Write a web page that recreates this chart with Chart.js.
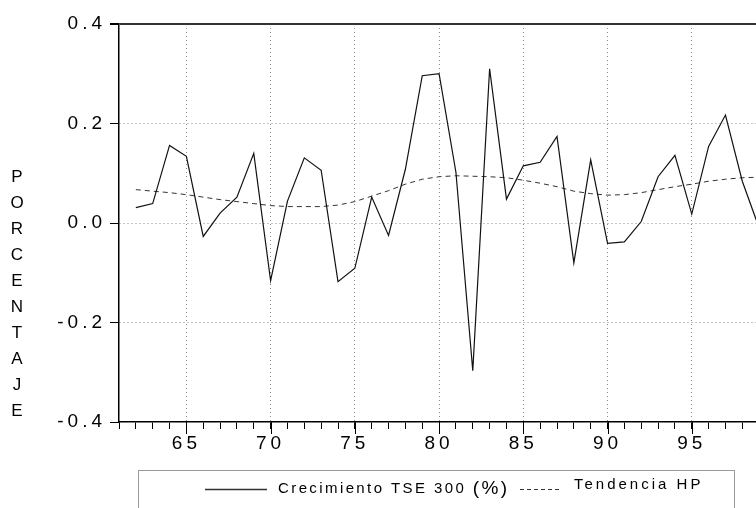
<!DOCTYPE html>
<html>
<head>
<meta charset="utf-8">
<script src="https://cdn.jsdelivr.net/npm/chart.js@4.4.0/dist/chart.umd.min.js"></script>
<style>
  html, body { margin: 0; padding: 0; overflow: hidden; background: #fff; }
  canvas { display: block; }
</style>
</head>
<body>
<canvas id="chart" width="790" height="508"></canvas>
<script>
const years = [62, 63, 64, 65, 66, 67, 68, 69, 70, 71, 72, 73, 74, 75, 76, 77, 78, 79, 80,
  81, 82, 83, 84, 85, 86, 87, 88, 89, 90, 91, 92, 93, 94, 95, 96, 97, 98, 99];

const growth = [0.031, 0.039, 0.156, 0.134, -0.027, 0.020, 0.052, 0.140, -0.116, 0.044,
  0.131, 0.106, -0.118, -0.091, 0.052, -0.025, 0.108, 0.296, 0.300, 0.102,
  -0.297, 0.310, 0.048, 0.115, 0.122, 0.174, -0.080, 0.127, -0.041, -0.038,
  0.003, 0.093, 0.136, 0.018, 0.154, 0.217, 0.084, -0.010];

const trend = [0.067, 0.064, 0.061, 0.057, 0.052, 0.047, 0.043, 0.039, 0.035, 0.033,
  0.033, 0.033, 0.036, 0.043, 0.054, 0.065, 0.078, 0.088, 0.093, 0.095,
  0.094, 0.093, 0.091, 0.086, 0.080, 0.073, 0.064, 0.059, 0.056, 0.057,
  0.061, 0.067, 0.073, 0.078, 0.084, 0.088, 0.091, 0.092];

const seriesNames = ['Crecimiento TSE 300 (%)', 'Tendencia HP'];
const xLabelYears = [65, 70, 75, 80, 85, 90, 95];
const yTitle = 'PORCENTAJE';

const FONT = '"Liberation Sans", Arial, sans-serif';
const DOTS = '#8c8c8c';
const CLEAR = 'rgba(0,0,0,0)';

const toPoints = values => values.map((v, i) => ({ x: years[i], y: v }));
const isMajor = v => Math.abs(v % 5) < 1e-9;
const near = (a, b) => Math.abs(a - b) < 1e-9;

// letter spacing for the axis labels, set before the scales are drawn
const spacing = {
  id: 'spacing',
  beforeDraw(chart) {
    chart.ctx.letterSpacing = '4px';
  },
  beforeDatasetsDraw(chart) {
    chart.ctx.letterSpacing = '0px';
  },
};

// longer ticks at every fifth year
const majorTicks = {
  id: 'majorTicks',
  afterDraw(chart) {
    const { ctx, scales: { x }, chartArea } = chart;
    ctx.save();
    ctx.strokeStyle = '#000';
    ctx.lineWidth = 1;
    xLabelYears.forEach(v => {
      const px = Math.round(x.getPixelForValue(v)) + 0.5;
      ctx.beginPath();
      ctx.moveTo(px, chartArea.bottom);
      ctx.lineTo(px, chartArea.bottom + 12);
      ctx.stroke();
    });
    ctx.restore();
  },
};

// y title written as stacked letters
const stackedTitle = {
  id: 'stackedTitle',
  afterDraw(chart) {
    const ctx = chart.ctx;
    ctx.save();
    ctx.letterSpacing = '0px';
    ctx.font = `17px ${FONT}`;
    ctx.fillStyle = '#000';
    ctx.textAlign = 'center';
    ctx.textBaseline = 'middle';
    [...yTitle].forEach((ch, i) => ctx.fillText(ch, 17, 177 + i * 26));
    ctx.restore();
  },
};

// boxed legend under the axis
const boxLegend = {
  id: 'boxLegend',
  afterDraw(chart) {
    const ctx = chart.ctx;
    const ds = chart.data.datasets;
    const y = 489;
    ctx.save();
    ctx.strokeStyle = '#9a9a9a';
    ctx.lineWidth = 1;
    ctx.strokeRect(138.5, 470.5, 596, 60);

    ctx.fillStyle = '#000';
    ctx.textBaseline = 'middle';
    ctx.letterSpacing = '2.4px';

    // first entry
    ctx.strokeStyle = '#333';
    ctx.lineWidth = 1.3;
    ctx.beginPath();
    ctx.moveTo(205, y + 0.5);
    ctx.lineTo(267, y + 0.5);
    ctx.stroke();
    const label = ds[0].label;
    const cut = label.indexOf('(');
    ctx.font = `15px ${FONT}`;
    ctx.fillText(label.slice(0, cut), 278, y);
    const w = ctx.measureText(label.slice(0, cut)).width;
    ctx.font = `19px ${FONT}`;
    ctx.fillText(label.slice(cut), 278 + w, y);

    // second entry
    ctx.setLineDash([4, 3]);
    ctx.lineWidth = 1;
    ctx.beginPath();
    ctx.moveTo(520, y + 0.5);
    ctx.lineTo(562, y + 0.5);
    ctx.stroke();
    ctx.setLineDash([]);
    ctx.font = `15px ${FONT}`;
    ctx.letterSpacing = '3px';
    ctx.fillText(ds[1].label, 574, y - 4);
    ctx.restore();
  },
};

new Chart(document.getElementById('chart'), {
  type: 'line',
  data: {
    datasets: [
      {
        label: seriesNames[0],
        data: toPoints(growth),
        borderColor: '#111',
        borderWidth: 1.2,
        pointRadius: 0,
        tension: 0,
      },
      {
        label: seriesNames[1],
        data: toPoints(trend),
        borderColor: '#333',
        borderWidth: 1,
        borderDash: [5, 4],
        pointRadius: 0,
        tension: 0,
      },
    ],
  },
  options: {
    responsive: false,
    animation: false,
    events: [],
    layout: { padding: { left: 0, top: 24, right: 14, bottom: 40 } },
    plugins: {
      legend: { display: false },
      tooltip: { enabled: false },
    },
    scales: {
      x: {
        type: 'linear',
        min: 61,
        max: 100,
        afterFit: s => { s.height = 46; },
        ticks: {
          stepSize: 1,
          autoSkip: false,
          maxRotation: 0,
          padding: 3,
          color: '#000',
          font: { family: FONT, size: 19 },
          callback: v => (xLabelYears.includes(v) ? String(v) : ''),
        },
        grid: {
          color: c => (c.tick && isMajor(c.tick.value) ? DOTS : CLEAR),
          tickColor: '#000',
          tickLength: 7,
        },
        border: {
          color: '#000',
          width: 1.5,
          dash: c => (c.tick ? [1, 3] : []),
        },
      },
      y: {
        min: -0.4,
        max: 0.4,
        afterFit: s => { s.width = 119; },
        ticks: {
          stepSize: 0.2,
          padding: 4,
          color: '#000',
          font: { family: FONT, size: 19 },
          callback: v => (near(v, 0) ? '0.0' : v.toFixed(1)),
        },
        grid: {
          color: c => {
            if (!c.tick) return DOTS;
            if (near(c.tick.value, 0.4)) return '#333';
            if (near(c.tick.value, -0.4)) return CLEAR;
            return DOTS;
          },
          lineWidth: c => (c.tick && near(c.tick.value, 0.4) ? 2 : 1),
          tickColor: '#000',
          tickLength: 9,
        },
        border: {
          color: '#000',
          width: 1.5,
          dash: c => (c.tick && !near(c.tick.value, 0.4) ? [1, 3] : []),
        },
      },
    },
  },
  plugins: [spacing, majorTicks, stackedTitle, boxLegend],
});
</script>
</body>
</html>
